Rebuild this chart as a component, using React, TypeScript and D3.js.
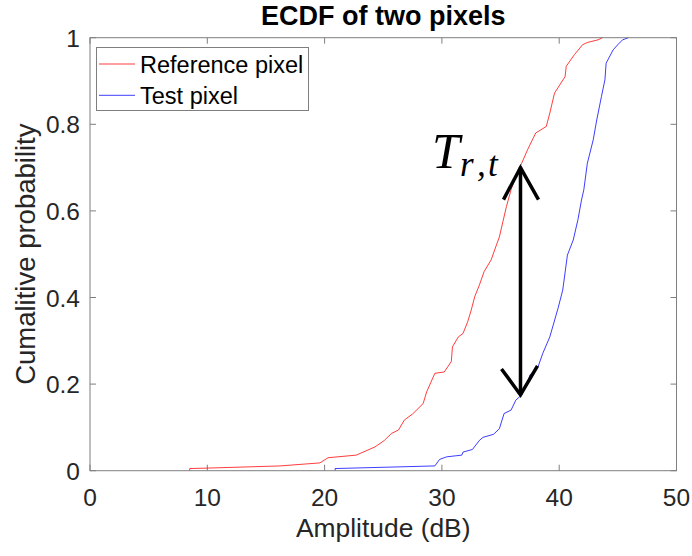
import React from "react";
import * as d3 from "d3";

const title = "ECDF of two pixels";
const xLabel = "Amplitude (dB)";
const yLabel = "Cumalitive probability";
const xTicks = [0, 10, 20, 30, 40, 50];
const yTicks = [0, 0.2, 0.4, 0.6, 0.8, 1];
const yTickLabels = ["0", "0.2", "0.4", "0.6", "0.8", "1"];
const seriesNames = ["Reference pixel", "Test pixel"];
const seriesColors = ["#ff0000", "#0000ff"];

const refAmp = [8.5, 8.5, 10, 16.2, 19.6, 20.3, 22.7, 24.3, 25.1, 25.7, 26.3, 26.8, 27.5, 28.4, 28.7, 29.4, 30.2, 30.8, 30.9, 31.4, 31.8, 32.2, 32.5, 32.8, 33.2, 33.6, 34.2, 34.5, 34.9, 35.2, 35.5, 35.9, 36.5, 36.8, 37.3, 38.0, 38.9, 39.2, 39.6, 40.5, 40.6, 41.3, 42.0, 42.4, 43.3, 43.7];
const refProb = [0, 0.005, 0.006, 0.011, 0.018, 0.030, 0.036, 0.055, 0.070, 0.086, 0.094, 0.117, 0.131, 0.155, 0.182, 0.225, 0.228, 0.252, 0.286, 0.309, 0.317, 0.344, 0.371, 0.402, 0.429, 0.46, 0.487, 0.51, 0.54, 0.575, 0.61, 0.649, 0.695, 0.71, 0.741, 0.78, 0.795, 0.826, 0.872, 0.91, 0.934, 0.961, 0.984, 0.989, 0.995, 1.0];

const testAmp = [20.9, 20.9, 29.4, 29.8, 30.4, 31.7, 31.8, 32.6, 33.2, 33.5, 34.4, 34.9, 35.3, 35.9, 36.3, 36.8, 37.3, 37.5, 38.2, 38.6, 39.2, 39.9, 40.3, 40.7, 41.2, 41.6, 41.9, 42.1, 42.4, 42.9, 43.2, 43.6, 43.9, 44.0, 44.6, 45.0, 45.4, 45.9];
const testProb = [0, 0.005, 0.011, 0.026, 0.032, 0.036, 0.043, 0.049, 0.07, 0.077, 0.084, 0.097, 0.132, 0.14, 0.163, 0.175, 0.202, 0.221, 0.24, 0.271, 0.309, 0.375, 0.417, 0.498, 0.533, 0.58, 0.625, 0.649, 0.71, 0.764, 0.81, 0.864, 0.903, 0.941, 0.972, 0.984, 0.995, 1.0];

const arrowAmp = 36.7;
const arrowTop = 0.7;
const arrowBottom = 0.175;

export default function App() {
  const W = 692, H = 556;
  const left = 90, right = 676.5, top = 37.7, bottom = 470.7;
  const x = d3.scaleLinear().domain([0, 50]).range([left, right]);
  const y = d3.scaleLinear().domain([0, 1]).range([bottom, top]);
  const line = d3.line<number>().x((d) => d[0]).y((d) => d[1]);
  const mk = (a: number[], p: number[]) =>
    d3.line<number>()
      .x((_, i) => x(a[i]))
      .y((_, i) => y(p[i]))(a.map((v) => v));
  const font = "'Liberation Sans', Arial, Helvetica, sans-serif";
  const tickColor = "#262626";
  const axisColor = "#7f7f7f";
  const tl = 6;

  const ax = x(arrowAmp);
  const aTop = y(arrowTop);
  const aBot = y(arrowBottom);

  return (
    <svg width={W} height={H} style={{ position: "absolute", left: 0, top: 0, display: "block" }} fontFamily={font}>
      <rect x={0} y={0} width={W} height={H} fill="#ffffff" />
      <text x={(left + right) / 2} y={25} textAnchor="middle" fontSize={27} fontWeight="bold" fill="#000">{title}</text>

      {/* ticks */}
      {xTicks.map((t) => (
        <g key={"xt" + t}>
          <line x1={x(t)} x2={x(t)} y1={bottom} y2={bottom - tl} stroke={axisColor} strokeWidth={1} />
          <line x1={x(t)} x2={x(t)} y1={top} y2={top + tl} stroke={axisColor} strokeWidth={1} />
          <text x={x(t)} y={506} textAnchor="middle" fontSize={24.5} fill={tickColor}>{t}</text>
        </g>
      ))}
      {yTicks.map((t, i) => (
        <g key={"yt" + t}>
          <line x1={left} x2={left + tl} y1={y(t)} y2={y(t)} stroke={axisColor} strokeWidth={1} />
          <line x1={right} x2={right - tl} y1={y(t)} y2={y(t)} stroke={axisColor} strokeWidth={1} />
          <text x={80} y={y(t) + 9} textAnchor="end" fontSize={24.5} fill={tickColor}>{yTickLabels[i]}</text>
        </g>
      ))}

      <text x={(left + right) / 2} y={537} textAnchor="middle" fontSize={26.4} fill={tickColor}>{xLabel}</text>
      <text transform={`translate(35, ${(top + bottom) / 2}) rotate(-90)`} textAnchor="middle" fontSize={27.5} fill={tickColor}>{yLabel}</text>

      {/* series */}
      <path d={mk(refAmp, refProb) || ""} fill="none" stroke={seriesColors[0]} strokeWidth={0.9} strokeOpacity={0.85} />
      <path d={mk(testAmp, testProb) || ""} fill="none" stroke={seriesColors[1]} strokeWidth={0.9} strokeOpacity={0.85} />

      {/* box */}
      <rect x={left} y={top} width={right - left} height={bottom - top} fill="none" stroke={axisColor} strokeWidth={1} />

      {/* legend */}
      <rect x={96.5} y={47.5} width={212} height={63} fill="#fff" stroke={axisColor} strokeWidth={1} />
      {seriesNames.map((n, i) => (
        <g key={n}>
          <line x1={99} x2={135} y1={64 + i * 31.3} y2={64 + i * 31.3} stroke={seriesColors[i]} strokeWidth={0.9} strokeOpacity={0.85} />
          <text x={140} y={72.5 + i * 31.3} fontSize={23.5} fill="#000">{n}</text>
        </g>
      ))}

      {/* annotation arrow */}
      <path d={line([[ax, aTop], [ax, aBot]] as any) || ""} stroke="#000" strokeWidth={3.5} fill="none" />
      <path d={line([[ax - 17, aTop + 32], [ax, aTop], [ax + 18, aTop + 32]] as any) || ""} stroke="#000" strokeWidth={3.5} fill="none" />
      <path d={line([[ax - 19, aBot - 26], [ax, aBot], [ax + 17, aBot - 29]] as any) || ""} stroke="#000" strokeWidth={3.5} fill="none" />

      <g fontFamily="'Liberation Serif', 'Times New Roman', serif" fontStyle="italic" fill="#000">
        <text x={432} y={168} fontSize={50}>T</text>
        <text x={460} y={176} fontSize={35}>r</text>
        <text x={477} y={176} fontSize={35}>,</text>
        <text x={488} y={176} fontSize={35}>t</text>
      </g>
    </svg>
  );
}
